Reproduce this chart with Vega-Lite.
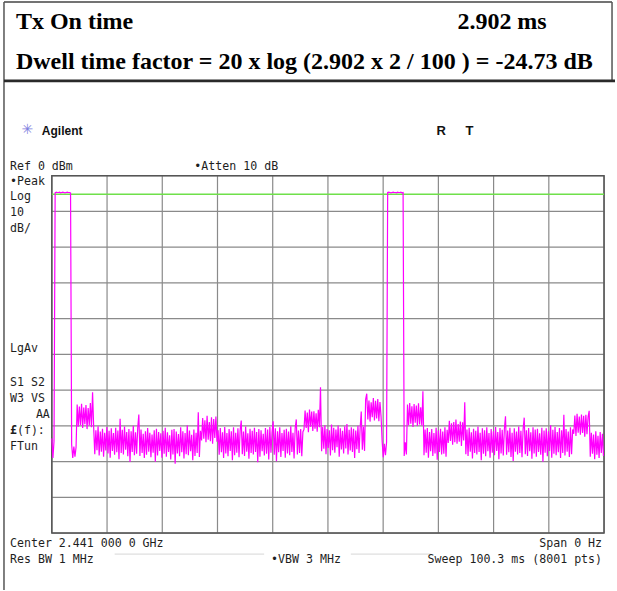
{
  "$schema": "https://vega.github.io/schema/vega-lite/v6.json",
  "width": 617,
  "height": 591,
  "autosize": {"type": "fit", "contains": "padding"},
  "padding": 0,
  "background": "white",
  "config": {
    "view": {"stroke": null},
    "axis": {"disable": true},
    "legend": {"disable": true},
    "text": {"font": "DejaVu Sans Mono", "fontSize": 11.6, "color": "#1e1e1e", "align": "left", "baseline": "alphabetic"}
  },
  "data": {"values": [{}]},
  "datasets": {
    "gridTime": [{"t": 0}, {"t": 10.03}, {"t": 20.06}, {"t": 30.09}, {"t": 40.12}, {"t": 50.15}, {"t": 60.18}, {"t": 70.21}, {"t": 80.24}, {"t": 90.27}, {"t": 100.3}],
    "gridLevel": [{"d": 0}, {"d": -10}, {"d": -20}, {"d": -30}, {"d": -40}, {"d": -50}, {"d": -60}, {"d": -70}, {"d": -80}, {"d": -90}, {"d": -100}],
    "trace": [
      {"t":0,"p":-73.5},{"t":0.2,"p":-79.0},{"t":0.4,"p":-74.2},
      {"t":0.6,"p":-4.8},{"t":0.8,"p":-4.6},{"t":1.0,"p":-4.7},{"t":1.2,"p":-4.7},{"t":1.4,"p":-4.6},{"t":1.6,"p":-4.8},{"t":1.8,"p":-4.7},{"t":2.0,"p":-4.6},{"t":2.2,"p":-4.7},{"t":2.4,"p":-4.8},{"t":2.6,"p":-4.7},{"t":2.8,"p":-4.6},{"t":3.0,"p":-4.7},{"t":3.2,"p":-4.7},{"t":3.4,"p":-4.8},
      {"t":3.6,"p":-75.2},{"t":3.8,"p":-79.0},{"t":4.0,"p":-75.8},{"t":4.2,"p":-78.6},{"t":4.4,"p":-76.0},
      {"t":4.6,"p":-64.0},{"t":4.8,"p":-70.2},{"t":5.0,"p":-64.6},{"t":5.2,"p":-69.8},{"t":5.4,"p":-63.8},{"t":5.6,"p":-70.6},{"t":5.8,"p":-64.9},{"t":6.0,"p":-69.5},{"t":6.2,"p":-64.2},{"t":6.4,"p":-70.9},{"t":6.6,"p":-65.0},{"t":6.8,"p":-69.9},{"t":7.0,"p":-63.6},{"t":7.2,"p":-70.4},{"t":7.4,"p":-60.6},
      {"t":7.6,"p":-70.4},{"t":7.8,"p":-77.9},{"t":8.0,"p":-71.2},{"t":8.2,"p":-76.8},{"t":8.4,"p":-70.1},{"t":8.6,"p":-78.3},{"t":8.8,"p":-71.6},{"t":9.0,"p":-77.2},{"t":9.2,"p":-70.8},{"t":9.4,"p":-78.6},{"t":9.6,"p":-71.9},{"t":9.8,"p":-76.9},{"t":10.0,"p":-70.3},{"t":10.2,"p":-77.7},{"t":10.4,"p":-71.4},{"t":10.6,"p":-78.9},{"t":10.8,"p":-70.7},{"t":11.0,"p":-77.0},{"t":11.2,"p":-72.0},{"t":11.4,"p":-78.1},{"t":11.6,"p":-70.5},{"t":11.8,"p":-77.4},{"t":12.0,"p":-71.3},{"t":12.2,"p":-79.3},{"t":12.4,"p":-68.0},{"t":12.6,"p":-77.6},{"t":12.8,"p":-71.1},{"t":13.0,"p":-78.0},{"t":13.2,"p":-70.2},{"t":13.4,"p":-76.7},{"t":13.6,"p":-71.7},{"t":13.8,"p":-78.5},{"t":14.0,"p":-70.9},{"t":14.2,"p":-80.1},{"t":14.4,"p":-71.5},{"t":14.6,"p":-77.3},{"t":14.8,"p":-70.0},{"t":15.0,"p":-78.2},{"t":15.2,"p":-71.8},{"t":15.4,"p":-77.8},{"t":15.6,"p":-70.6},{"t":15.8,"p":-66.8},
      {"t":16.0,"p":-78.4},{"t":16.2,"p":-71.0},{"t":16.4,"p":-77.6},{"t":16.6,"p":-72.2},{"t":16.8,"p":-79.0},{"t":17.0,"p":-71.5},{"t":17.2,"p":-78.1},{"t":17.4,"p":-70.6},{"t":17.6,"p":-77.2},{"t":17.8,"p":-71.9},{"t":18.0,"p":-78.8},{"t":18.2,"p":-72.4},{"t":18.4,"p":-77.5},{"t":18.6,"p":-71.2},{"t":18.8,"p":-80.0},{"t":19.0,"p":-70.8},{"t":19.2,"p":-78.3},{"t":19.4,"p":-71.7},{"t":19.6,"p":-77.0},{"t":19.8,"p":-72.1},{"t":20.0,"p":-78.9},{"t":20.2,"p":-71.4},{"t":20.4,"p":-77.8},{"t":20.6,"p":-70.5},{"t":20.8,"p":-78.6},{"t":21.0,"p":-71.8},{"t":21.2,"p":-77.3},{"t":21.4,"p":-72.6},{"t":21.6,"p":-79.4},{"t":21.8,"p":-71.1},{"t":22.0,"p":-78.0},{"t":22.2,"p":-70.9},{"t":22.4,"p":-80.6},{"t":22.6,"p":-71.6},{"t":22.8,"p":-77.7},{"t":23.0,"p":-72.3},{"t":23.2,"p":-78.5},{"t":23.4,"p":-70.4},{"t":23.6,"p":-77.4},{"t":23.8,"p":-71.5},{"t":24.0,"p":-79.1},{"t":24.2,"p":-72.0},{"t":24.4,"p":-77.9},{"t":24.6,"p":-69.8},{"t":24.8,"p":-78.2},{"t":25.0,"p":-71.3},{"t":25.2,"p":-77.1},{"t":25.4,"p":-72.5},{"t":25.6,"p":-79.6},{"t":25.8,"p":-71.0},{"t":26.0,"p":-78.4},{"t":26.2,"p":-71.9},{"t":26.4,"p":-77.6},{"t":26.6,"p":-66.2},{"t":26.8,"p":-78.7},{"t":27.0,"p":-71.4},
      {"t":27.2,"p":-74.1},{"t":27.4,"p":-67.8},{"t":27.6,"p":-73.6},{"t":27.8,"p":-68.4},{"t":28.0,"p":-74.6},{"t":28.2,"p":-67.2},{"t":28.4,"p":-73.9},{"t":28.6,"p":-68.9},{"t":28.8,"p":-74.3},{"t":29.0,"p":-67.6},{"t":29.2,"p":-75.0},{"t":29.4,"p":-68.1},{"t":29.6,"p":-73.4},{"t":29.8,"p":-67.4},{"t":30.0,"p":-74.4},
      {"t":30.2,"p":-71.2},{"t":30.4,"p":-78.1},{"t":30.6,"p":-70.6},{"t":30.8,"p":-77.4},{"t":31.0,"p":-71.8},{"t":31.2,"p":-79.0},{"t":31.4,"p":-70.3},{"t":31.6,"p":-77.7},{"t":31.8,"p":-72.0},{"t":32.0,"p":-78.5},{"t":32.2,"p":-70.9},{"t":32.4,"p":-77.0},{"t":32.6,"p":-71.5},{"t":32.8,"p":-79.6},{"t":33.0,"p":-70.4},{"t":33.2,"p":-78.2},{"t":33.4,"p":-71.9},{"t":33.6,"p":-77.5},{"t":33.8,"p":-70.7},{"t":34.0,"p":-78.8},{"t":34.2,"p":-71.3},{"t":34.4,"p":-68.5},{"t":34.6,"p":-77.9},{"t":34.8,"p":-71.6},{"t":35.0,"p":-78.4},{"t":35.2,"p":-70.2},{"t":35.4,"p":-77.2},{"t":35.6,"p":-72.1},{"t":35.8,"p":-79.2},{"t":36.0,"p":-70.8},{"t":36.2,"p":-77.6},{"t":36.4,"p":-71.4},{"t":36.6,"p":-78.0},{"t":36.8,"p":-70.5},{"t":37.0,"p":-77.3},{"t":37.2,"p":-71.7},{"t":37.4,"p":-80.2},{"t":37.6,"p":-70.9},{"t":37.8,"p":-78.6},{"t":38.0,"p":-71.2},{"t":38.2,"p":-77.1},{"t":38.4,"p":-72.2},{"t":38.6,"p":-78.3},{"t":38.8,"p":-70.6},{"t":39.0,"p":-77.8},{"t":39.2,"p":-71.0},{"t":39.4,"p":-79.4},{"t":39.6,"p":-70.3},{"t":39.8,"p":-77.5},{"t":40.0,"p":-71.8},{"t":40.2,"p":-68.7},{"t":40.4,"p":-78.1},{"t":40.6,"p":-70.7},{"t":40.8,"p":-79.9},{"t":41.0,"p":-71.5},{"t":41.2,"p":-77.4},{"t":41.4,"p":-70.4},{"t":41.6,"p":-78.7},{"t":41.8,"p":-72.0},{"t":42.0,"p":-77.0},{"t":42.2,"p":-71.1},{"t":42.4,"p":-78.9},{"t":42.6,"p":-70.8},{"t":42.8,"p":-77.7},{"t":43.0,"p":-71.6},{"t":43.2,"p":-78.2},{"t":43.4,"p":-70.1},{"t":43.6,"p":-77.3},{"t":43.8,"p":-71.9},{"t":44.0,"p":-79.1},{"t":44.2,"p":-70.6},{"t":44.4,"p":-68.2},{"t":44.6,"p":-78.0},{"t":44.8,"p":-71.3},{"t":45.0,"p":-77.6},{"t":45.2,"p":-70.9},{"t":45.4,"p":-78.5},{"t":45.6,"p":-71.7},
      {"t":45.8,"p":-71.0},{"t":46.0,"p":-65.7},{"t":46.2,"p":-70.6},{"t":46.4,"p":-66.3},{"t":46.6,"p":-71.8},{"t":46.8,"p":-65.4},{"t":47.0,"p":-70.2},{"t":47.2,"p":-66.0},{"t":47.4,"p":-71.4},{"t":47.6,"p":-65.9},{"t":47.8,"p":-70.8},{"t":48.0,"p":-66.5},{"t":48.2,"p":-71.6},{"t":48.4,"p":-65.5},{"t":48.6,"p":-70.4},{"t":48.8,"p":-59.2},
      {"t":49.0,"p":-77.1},{"t":49.2,"p":-70.3},{"t":49.4,"p":-76.4},{"t":49.6,"p":-69.8},{"t":49.8,"p":-77.9},{"t":50.0,"p":-70.9},{"t":50.2,"p":-76.2},{"t":50.4,"p":-71.2},{"t":50.6,"p":-78.3},{"t":50.8,"p":-69.6},{"t":51.0,"p":-76.8},{"t":51.2,"p":-70.5},{"t":51.4,"p":-77.5},{"t":51.6,"p":-71.0},{"t":51.8,"p":-76.0},{"t":52.0,"p":-69.9},{"t":52.2,"p":-78.6},{"t":52.4,"p":-70.7},{"t":52.6,"p":-76.6},{"t":52.8,"p":-71.4},{"t":53.0,"p":-77.7},{"t":53.2,"p":-70.1},{"t":53.4,"p":-76.3},{"t":53.6,"p":-69.5},{"t":53.8,"p":-78.0},{"t":54.0,"p":-71.1},{"t":54.2,"p":-76.9},{"t":54.4,"p":-70.4},{"t":54.6,"p":-77.3},{"t":54.8,"p":-70.8},{"t":55.0,"p":-79.0},{"t":55.2,"p":-71.3},{"t":55.4,"p":-76.5},{"t":55.6,"p":-70.0},{"t":55.8,"p":-77.6},{"t":56.0,"p":-70.6},{"t":56.2,"p":-66.0},{"t":56.4,"p":-76.7},{"t":56.6,"p":-70.2},{"t":56.8,"p":-77.0},
      {"t":57.0,"p":-62.6},{"t":57.2,"p":-61.0},{"t":57.4,"p":-68.2},{"t":57.6,"p":-62.9},{"t":57.8,"p":-68.8},{"t":58.0,"p":-63.4},{"t":58.2,"p":-67.6},{"t":58.4,"p":-62.2},{"t":58.6,"p":-68.5},{"t":58.8,"p":-63.0},{"t":59.0,"p":-67.9},{"t":59.2,"p":-62.5},{"t":59.4,"p":-68.7},{"t":59.6,"p":-63.3},{"t":59.8,"p":-67.4},
      {"t":60.0,"p":-74.4},{"t":60.2,"p":-78.8},{"t":60.4,"p":-75.0},{"t":60.6,"p":-78.2},{"t":60.8,"p":-74.6},
      {"t":61.0,"p":-4.7},{"t":61.2,"p":-4.6},{"t":61.4,"p":-4.7},{"t":61.6,"p":-4.8},{"t":61.8,"p":-4.7},{"t":62.0,"p":-4.6},{"t":62.2,"p":-4.7},{"t":62.4,"p":-4.7},{"t":62.6,"p":-4.8},{"t":62.8,"p":-4.6},{"t":63.0,"p":-4.7},{"t":63.2,"p":-4.7},{"t":63.4,"p":-4.6},{"t":63.6,"p":-4.8},{"t":63.8,"p":-4.7},
      {"t":64.0,"p":-78.4},{"t":64.2,"p":-74.6},{"t":64.4,"p":-78.0},
      {"t":64.6,"p":-64.0},{"t":64.8,"p":-69.8},{"t":65.0,"p":-63.6},{"t":65.2,"p":-69.4},{"t":65.4,"p":-64.5},{"t":65.6,"p":-70.3},{"t":65.8,"p":-63.9},{"t":66.0,"p":-69.1},{"t":66.2,"p":-64.3},{"t":66.4,"p":-70.0},{"t":66.6,"p":-63.7},{"t":66.8,"p":-69.6},{"t":67.0,"p":-64.8},{"t":67.2,"p":-69.9},{"t":67.4,"p":-60.3},
      {"t":67.6,"p":-78.2},{"t":67.8,"p":-71.0},{"t":68.0,"p":-77.5},{"t":68.2,"p":-70.6},{"t":68.4,"p":-78.9},{"t":68.6,"p":-71.7},{"t":68.8,"p":-77.1},{"t":69.0,"p":-70.9},{"t":69.2,"p":-78.4},{"t":69.4,"p":-72.0},{"t":69.6,"p":-77.7},{"t":69.8,"p":-70.5},{"t":70.0,"p":-79.5},{"t":70.2,"p":-71.3},{"t":70.4,"p":-77.3},{"t":70.6,"p":-70.8},{"t":70.8,"p":-78.0},{"t":71.0,"p":-71.6},{"t":71.2,"p":-77.8},{"t":71.4,"p":-70.4},{"t":71.6,"p":-78.6},{"t":71.8,"p":-71.1},
      {"t":72.0,"p":-74.8},{"t":72.2,"p":-68.6},{"t":72.4,"p":-74.2},{"t":72.6,"p":-69.3},{"t":72.8,"p":-75.3},{"t":73.0,"p":-68.9},{"t":73.2,"p":-74.6},{"t":73.4,"p":-68.2},{"t":73.6,"p":-75.0},{"t":73.8,"p":-69.5},{"t":74.0,"p":-74.4},{"t":74.2,"p":-68.8},{"t":74.4,"p":-75.6},{"t":74.6,"p":-69.0},{"t":74.8,"p":-74.1},{"t":75.0,"p":-63.4},
      {"t":75.2,"p":-77.9},{"t":75.4,"p":-71.0},{"t":75.6,"p":-78.4},{"t":75.8,"p":-70.5},{"t":76.0,"p":-77.2},{"t":76.2,"p":-71.8},{"t":76.4,"p":-79.1},{"t":76.6,"p":-70.8},{"t":76.8,"p":-77.6},{"t":77.0,"p":-71.4},{"t":77.2,"p":-78.0},{"t":77.4,"p":-70.2},{"t":77.6,"p":-77.3},{"t":77.8,"p":-71.9},{"t":78.0,"p":-79.6},{"t":78.2,"p":-70.7},{"t":78.4,"p":-77.8},{"t":78.6,"p":-71.2},{"t":78.8,"p":-78.5},{"t":79.0,"p":-70.4},{"t":79.2,"p":-77.1},{"t":79.4,"p":-72.0},{"t":79.6,"p":-78.9},{"t":79.8,"p":-70.9},{"t":80.0,"p":-77.5},{"t":80.2,"p":-71.5},{"t":80.4,"p":-78.2},{"t":80.6,"p":-70.3},{"t":80.8,"p":-77.0},{"t":81.0,"p":-71.7},{"t":81.2,"p":-79.3},{"t":81.4,"p":-70.6},{"t":81.6,"p":-77.7},{"t":81.8,"p":-71.1},{"t":82.0,"p":-78.3},{"t":82.2,"p":-70.8},{"t":82.4,"p":-67.3},{"t":82.6,"p":-78.1},{"t":82.8,"p":-71.3},{"t":83.0,"p":-77.4},{"t":83.2,"p":-70.5},{"t":83.4,"p":-78.7},{"t":83.6,"p":-71.9},{"t":83.8,"p":-79.8},{"t":84.0,"p":-70.7},{"t":84.2,"p":-77.2},{"t":84.4,"p":-71.6},{"t":84.6,"p":-78.0},{"t":84.8,"p":-70.2},{"t":85.0,"p":-77.6},{"t":85.2,"p":-71.4},{"t":85.4,"p":-78.8},{"t":85.6,"p":-70.9},{"t":85.8,"p":-67.7},{"t":86.0,"p":-77.9},{"t":86.2,"p":-71.2},{"t":86.4,"p":-78.4},{"t":86.6,"p":-70.6},{"t":86.8,"p":-77.1},{"t":87.0,"p":-71.8},{"t":87.2,"p":-79.2},{"t":87.4,"p":-70.4},{"t":87.6,"p":-77.7},{"t":87.8,"p":-71.0},{"t":88.0,"p":-78.6},{"t":88.2,"p":-70.8},{"t":88.4,"p":-77.3},{"t":88.6,"p":-72.1},{"t":88.8,"p":-78.1},{"t":89.0,"p":-70.5},{"t":89.2,"p":-80.0},{"t":89.4,"p":-71.3},{"t":89.6,"p":-77.5},{"t":89.8,"p":-70.7},{"t":90.0,"p":-78.5},{"t":90.2,"p":-71.5},{"t":90.4,"p":-77.0},{"t":90.6,"p":-69.8},{"t":90.8,"p":-78.9},{"t":91.0,"p":-71.1},{"t":91.2,"p":-77.8},{"t":91.4,"p":-70.3},{"t":91.6,"p":-78.2},{"t":91.8,"p":-71.7},{"t":92.0,"p":-77.4},{"t":92.2,"p":-70.6},{"t":92.4,"p":-79.0},{"t":92.6,"p":-71.2},{"t":92.8,"p":-77.6},{"t":93.0,"p":-66.9},{"t":93.2,"p":-78.3},{"t":93.4,"p":-70.9},{"t":93.6,"p":-77.2},{"t":93.8,"p":-71.6},{"t":94.0,"p":-78.7},{"t":94.2,"p":-70.4},{"t":94.4,"p":-77.9},{"t":94.6,"p":-71.0},
      {"t":94.8,"p":-72.2},{"t":95.0,"p":-67.1},{"t":95.2,"p":-72.8},{"t":95.4,"p":-66.6},{"t":95.6,"p":-71.9},{"t":95.8,"p":-67.4},{"t":96.0,"p":-72.5},{"t":96.2,"p":-66.8},{"t":96.4,"p":-72.0},{"t":96.6,"p":-67.2},{"t":96.8,"p":-73.0},{"t":97.0,"p":-66.9},{"t":97.2,"p":-72.3},{"t":97.4,"p":-67.5},{"t":97.6,"p":-65.8},
      {"t":97.8,"p":-78.6},{"t":98.0,"p":-71.9},{"t":98.2,"p":-77.8},{"t":98.4,"p":-72.4},{"t":98.6,"p":-79.3},{"t":98.8,"p":-71.5},{"t":99.0,"p":-78.1},{"t":99.2,"p":-72.8},{"t":99.4,"p":-79.0},{"t":99.6,"p":-71.7},{"t":99.8,"p":-77.6},{"t":100.0,"p":-72.2},{"t":100.2,"p":-78.4}
    ]
  },
  "layer": [
    {
      "data": {"name": "gridTime"},
      "mark": {"type": "rule", "color": "#8a8a8a", "strokeWidth": 1.2},
      "encoding": {"x": {"field": "t", "type": "quantitative"}, "y": {"datum": 0}, "y2": {"datum": -100}}
    },
    {
      "data": {"name": "gridLevel"},
      "mark": {"type": "rule", "color": "#8a8a8a", "strokeWidth": 1.2},
      "encoding": {"y": {"field": "d", "type": "quantitative"}, "x": {"datum": 0}, "x2": {"datum": 100.3}}
    },
    {
      "mark": {"type": "rect", "filled": false, "stroke": "#555555", "strokeWidth": 1.5},
      "encoding": {"x": {"datum": 0}, "x2": {"datum": 100.3}, "y": {"datum": 0}, "y2": {"datum": -100}}
    },
    {
      "description": "Display line",
      "mark": {"type": "rule", "color": "#6fe04a", "strokeWidth": 1.6},
      "encoding": {"x": {"datum": 0}, "x2": {"datum": 100.3}, "y": {"datum": -5.2}}
    },
    {
      "description": "Sweep trace: zero-span power vs time",
      "data": {"name": "trace"},
      "mark": {"type": "line", "color": "#ff00ff", "strokeWidth": 1.2, "interpolate": "linear"},
      "encoding": {
        "x": {"field": "t", "type": "quantitative", "scale": {"domain": [-9.414, 102.29], "nice": false, "zero": false}},
        "y": {"field": "p", "type": "quantitative", "scale": {"domain": [-115.92, 49.16], "nice": false, "zero": false}}
      }
    },
    {"mark": {"type": "rule", "color": "#444444", "strokeWidth": 1.5}, "encoding": {"x": {"datum": -8.69}, "x2": {"datum": 101.75}, "y": {"datum": 48.6}}},
    {"mark": {"type": "rule", "color": "#555555", "strokeWidth": 1.5}, "encoding": {"x": {"datum": -8.69}, "y": {"datum": 48.6}, "y2": {"datum": -115.92}}},
    {"mark": {"type": "rule", "color": "#555555", "strokeWidth": 1.5}, "encoding": {"x": {"datum": 101.75}, "y": {"datum": 48.6}, "y2": {"datum": 26.54}}},
    {"mark": {"type": "rule", "color": "#2a2a2a", "strokeWidth": 2.6}, "encoding": {"x": {"datum": -8.69}, "x2": {"datum": 102.29}, "y": {"datum": 26.54}}},
    {"mark": {"type": "rule", "color": "#d6d6d6", "strokeWidth": 1}, "encoding": {"x": {"datum": 11.41}, "x2": {"datum": 38.56}, "y": {"datum": -105.87}}},
    {"mark": {"type": "rule", "color": "#d6d6d6", "strokeWidth": 1}, "encoding": {"x": {"datum": 54.31}, "x2": {"datum": 68.8}, "y": {"datum": -105.87}}},
    {"mark": {"type": "text", "text": "Tx On time", "font": "Liberation Serif", "fontWeight": "bold", "fontSize": 24, "color": "#000000"}, "encoding": {"x": {"datum": -6.52}, "y": {"datum": 41.06}}},
    {"mark": {"type": "text", "text": "2.902", "font": "Liberation Serif", "fontWeight": "bold", "fontSize": 24, "color": "#000000"}, "encoding": {"x": {"datum": 73.69}, "y": {"datum": 41.06}}},
    {"mark": {"type": "text", "text": "ms", "font": "Liberation Serif", "fontWeight": "bold", "fontSize": 24, "color": "#000000"}, "encoding": {"x": {"datum": 84.55}, "y": {"datum": 41.06}}},
    {"mark": {"type": "text", "text": "Dwell time factor = 20 x log (2.902 x 2 / 100 ) = -24.73 dB", "font": "Liberation Serif", "fontWeight": "bold", "fontSize": 24, "color": "#000000"}, "encoding": {"x": {"datum": -6.52}, "y": {"datum": 29.89}}},
    {"mark": {"type": "text", "text": "✳", "font": "DejaVu Sans", "fontSize": 14, "color": "#7f7fe0", "align": "center", "baseline": "middle"}, "encoding": {"x": {"datum": -4.44}, "y": {"datum": 12.85}}},
    {"mark": {"type": "text", "text": "Agilent", "font": "Liberation Sans", "fontWeight": "bold", "fontSize": 12, "color": "#111111"}, "encoding": {"x": {"datum": -1.81}, "y": {"datum": 11.45}}},
    {"mark": {"type": "text", "text": "R", "font": "Liberation Sans", "fontWeight": "bold", "fontSize": 13, "color": "#111111"}, "encoding": {"x": {"datum": 69.88}, "y": {"datum": 11.45}}},
    {"mark": {"type": "text", "text": "T", "font": "Liberation Sans", "fontWeight": "bold", "fontSize": 13, "color": "#111111"}, "encoding": {"x": {"datum": 75.13}, "y": {"datum": 11.45}}},
    {"mark": {"type": "text", "text": "Ref 0 dBm"}, "encoding": {"x": {"datum": -7.6}, "y": {"datum": 1.68}}},
    {"mark": {"type": "text", "text": "•Atten 10 dB"}, "encoding": {"x": {"datum": 25.89}, "y": {"datum": 1.68}}},
    {"mark": {"type": "text", "text": "•Peak"}, "encoding": {"x": {"datum": -7.6}, "y": {"datum": -2.51}}},
    {"mark": {"type": "text", "text": "Log"}, "encoding": {"x": {"datum": -7.6}, "y": {"datum": -6.7}}},
    {"mark": {"type": "text", "text": "10"}, "encoding": {"x": {"datum": -7.6}, "y": {"datum": -11.17}}},
    {"mark": {"type": "text", "text": "dB/"}, "encoding": {"x": {"datum": -7.6}, "y": {"datum": -15.64}}},
    {"mark": {"type": "text", "text": "LgAv"}, "encoding": {"x": {"datum": -7.6}, "y": {"datum": -49.44}}},
    {"mark": {"type": "text", "text": "S1 S2"}, "encoding": {"x": {"datum": -7.6}, "y": {"datum": -58.94}}},
    {"mark": {"type": "text", "text": "W3 VS"}, "encoding": {"x": {"datum": -7.6}, "y": {"datum": -63.41}}},
    {"mark": {"type": "text", "text": "AA", "align": "right"}, "encoding": {"x": {"datum": -0.36}, "y": {"datum": -67.88}}},
    {"mark": {"type": "text", "text": "£", "fontWeight": "bold"}, "encoding": {"x": {"datum": -7.6}, "y": {"datum": -72.35}}},
    {"mark": {"type": "text", "text": "(f):"}, "encoding": {"x": {"datum": -6.34}, "y": {"datum": -72.35}}},
    {"mark": {"type": "text", "text": "FTun"}, "encoding": {"x": {"datum": -7.6}, "y": {"datum": -76.82}}},
    {"mark": {"type": "text", "text": "Center 2.441 000 0 GHz"}, "encoding": {"x": {"datum": -7.6}, "y": {"datum": -103.91}}},
    {"mark": {"type": "text", "text": "Span 0 Hz", "align": "right"}, "encoding": {"x": {"datum": 99.94}, "y": {"datum": -103.91}}},
    {"mark": {"type": "text", "text": "Res BW 1 MHz"}, "encoding": {"x": {"datum": -7.6}, "y": {"datum": -108.38}}},
    {"mark": {"type": "text", "text": "•VBW 3 MHz"}, "encoding": {"x": {"datum": 39.83}, "y": {"datum": -108.38}}},
    {"mark": {"type": "text", "text": "Sweep 100.3 ms (8001 pts)", "align": "right"}, "encoding": {"x": {"datum": 99.94}, "y": {"datum": -108.38}}}
  ]
}
